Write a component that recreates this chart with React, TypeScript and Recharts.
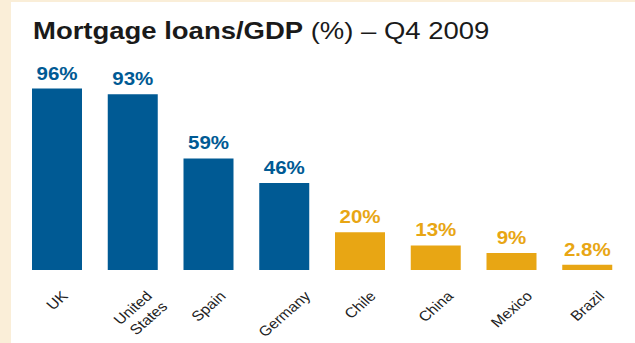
import React from 'react';
import { BarChart, Bar, XAxis, YAxis, Cell, LabelList } from 'recharts';

const categories = ['UK', 'United States', 'Spain', 'Germany', 'Chile', 'China', 'Mexico', 'Brazil'];
const values = [96, 93, 59, 46, 20, 13, 9, 2.8];
const groups = ['advanced', 'advanced', 'advanced', 'advanced', 'emerging', 'emerging', 'emerging', 'emerging'];
const tickLabelLines = [['UK'], ['United', 'States'], ['Spain'], ['Germany'], ['Chile'], ['China'], ['Mexico'], ['Brazil']];

const groupColors: Record<string, string> = { advanced: '#005a94', emerging: '#e8a614' };

const data = categories.map((c, i) => ({ name: c, value: values[i], group: groups[i], lines: tickLabelLines[i] }));

const TICK_FONT = "14px 'Liberation Sans'";
let ctx: CanvasRenderingContext2D | null = null;
const measure = (s: string) => {
  if (!ctx) ctx = document.createElement('canvas').getContext('2d');
  if (!ctx) return s.length * 7.5;
  ctx.font = TICK_FONT;
  return ctx.measureText(s).width;
};

const STRETCH = 1.14;

const Tick = (props: any) => {
  const { x, y, payload } = props;
  const d = data[payload.index] || data.find((e) => e.name === payload.value);
  const lines: string[] = d ? d.lines : [String(payload.value)];
  const w = measure(lines[0]);
  const ex = x + 0.403 * (w + 10);
  const ey = y + 27;
  return (
    <text
      transform={`translate(${ex} ${ey}) scale(${STRETCH} 1) rotate(-45)`}
      x={0}
      y={0}
      textAnchor="end"
      fontFamily="'Liberation Sans', Arial, sans-serif"
      fontSize={14}
      fill="#222"
    >
      {lines.map((l, i) => (
        <tspan key={i} x={i === 0 ? 0 : 2} dy={i === 0 ? 0 : 17}>
          {l}
        </tspan>
      ))}
    </text>
  );
};

const BarLabel = (props: any) => {
  const { x, y, width, value, index } = props;
  const cx = x + width / 2;
  const ty = y - 9;
  const color = groupColors[data[index].group];
  return (
    <text
      transform={`translate(${cx} ${ty}) scale(${STRETCH} 1)`}
      x={0}
      y={0}
      textAnchor="middle"
      fontFamily="'Liberation Sans', Arial, sans-serif"
      fontWeight="bold"
      fontSize={18}
      fill={color}
    >
      {`${value}%`}
    </text>
  );
};

export default function App() {
  return (
    <div style={{ position: 'absolute', left: 0, top: 0, width: 635, height: 343, background: '#faeed8' }}>
      <div style={{ position: 'absolute', left: 11, top: 2, width: 624, height: 341, background: '#ffffff' }} />
      <svg width={635} height={60} style={{ position: 'absolute', left: 0, top: 0 }}>
        <text
          transform="translate(33 39) scale(1.145 1)"
          fontFamily="'Liberation Sans', Arial, sans-serif"
          fontSize={24}
          fill="#1a1a1a"
        >
          <tspan fontWeight="bold">Mortgage loans/GDP</tspan>
          <tspan> (%) – Q4 2009</tspan>
        </text>
      </svg>
      <div style={{ position: 'absolute', left: 0, top: 0 }}>
        <BarChart
          width={635}
          height={343}
          data={data}
          margin={{ top: 81, right: 10, bottom: 0, left: 19 }}
          barSize={50}
        >
          <XAxis
            dataKey="name"
            axisLine={false}
            tickLine={false}
            tickSize={0}
            tickMargin={0}
            height={73}
            interval={0}
            tick={<Tick />}
          />
          <YAxis hide domain={[0, 100]} />
          <Bar dataKey="value" isAnimationActive={false}>
            {data.map((d, i) => (
              <Cell key={i} fill={groupColors[d.group]} />
            ))}
            <LabelList dataKey="value" content={<BarLabel />} />
          </Bar>
        </BarChart>
      </div>
    </div>
  );
}
